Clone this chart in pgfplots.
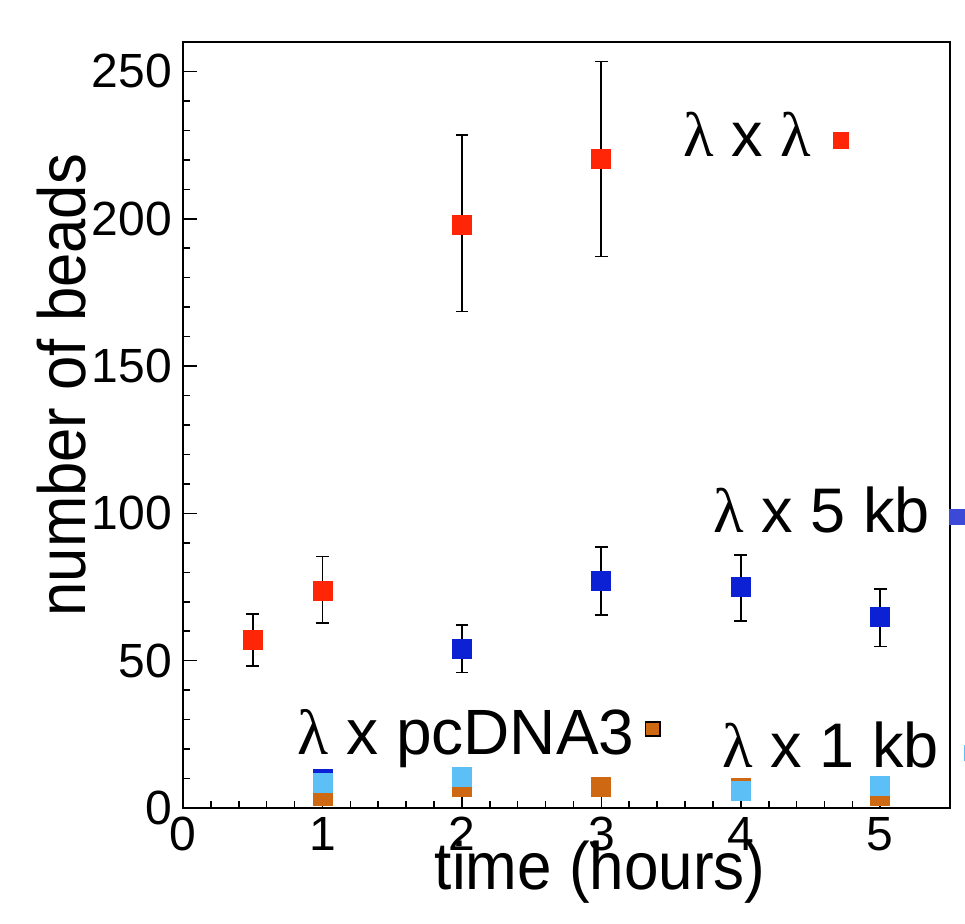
\documentclass[border=0pt]{standalone}
\usepackage{graphicx}
\usepackage{pgfplots}
\pgfplotsset{compat=1.18}
\usepackage{fontspec}
\setmainfont{Liberation Sans}
\newfontfamily\lamfont{Liberation Serif}
\newcommand{\lam}{{\lamfont λ}}
\definecolor{cred}{RGB}{255,38,8}
\definecolor{cblue}{RGB}{12,32,212}
\definecolor{clblue}{RGB}{92,192,246}
\definecolor{corange}{RGB}{206,104,18}
\definecolor{clegblue}{RGB}{60,72,214}
\begin{document}
\begin{tikzpicture}[x=1pt,y=1pt]
\useasboundingbox (-91.5,-57.5) rectangle (391,404);
\begin{axis}[
  at={(0,0)}, anchor=south west,
  scale only axis, width=383.5pt, height=383pt,
  xmin=0, xmax=5.5, ymin=0, ymax=260,
  xtick={0,1,2,3,4,5}, ytick={0,50,100,150,200,250},
  minor x tick num=4, minor y tick num=4,
  tick pos=left, tick align=inside,
  major tick length=7pt, minor tick length=3.5pt,
  tick style={black, line width=0.8pt},
  axis line style={line width=0.8pt},
  clip=false,
  /pgf/number format/assume math mode=true,
  ticklabel style={font=\fontsize{24}{28}\selectfont},
  yticklabel style={xshift=-2pt},
  xticklabel style={yshift=-1pt},
  xlabel={\scalebox{0.925}[1]{time (hours)}},
  ylabel={\scalebox{0.92}[1]{number of beads}},
  label style={font=\fontsize{33.5}{38}\selectfont},
  xlabel style={at={(axis description cs:0.544,-0.0836)}, anchor=center},
  ylabel style={at={(axis description cs:-0.158,0.552)}, anchor=center, rotate=0},
  every axis plot/.append style={only marks, mark=square*, mark size=4.75pt},
]
% lambda x 5 kb
\addplot[mark options={draw=cblue, fill=cblue},
  error bars/.cd, y dir=both, y explicit,
  error bar style={black, line width=0.9pt},
  error mark options={rotate=90, black, mark size=3.2pt, line width=0.9pt}]
  table[x=x, y=y, y error plus=ep, y error minus=em] {
x y ep em
2 54.1 7.9 8.1
3 77.1 11.6 11.5
4 75.0 10.9 11.5
5 65.0 9.3 10.2
};
\addplot[mark options={draw=cblue, fill=cblue}] coordinates {(1,9.9)};
% lambda x pcDNA3
\addplot[mark options={draw=corange, fill=corange}] coordinates {
(1,4.0) (2,7.1) (3,7.0) (4,6.9) (5,4.2)};
% lambda x 1 kb
\addplot[mark options={draw=clblue, fill=clblue}] coordinates {
(1,8.4) (2,10.5) (4,5.7) (5,7.6)};
% lambda x lambda
\addplot[mark options={draw=cred, fill=cred},
  error bars/.cd, y dir=both, y explicit,
  error bar style={black, line width=0.9pt},
  error mark options={rotate=90, black, mark size=3.2pt, line width=0.9pt}]
  table[x=x, y=y, y error plus=ep, y error minus=em] {
x y ep em
0.5 57.1 8.7 8.9
1 73.6 11.8 10.9
2 198 30.3 29.5
3 220.4 33.0 33.2
};
% legend squares
\addplot[mark size=3.8pt, mark options={draw=cred, fill=cred}] coordinates {(4.717,226.6)};
\addplot[mark size=3.9pt, mark options={draw=clegblue, fill=clegblue}] coordinates {(5.55,98.8)};
\addplot[mark size=3.6pt, mark options={draw=black, fill=corange, line width=0.8pt}] coordinates {(3.369,26.8)};
\addplot[mark size=3.8pt, mark options={draw=clblue, fill=clblue}] coordinates {(5.66,18.7)};
% labels
\node[anchor=base, font=\fontsize{31.5}{36}\selectfont] at (axis cs:4.043,221.1) {\lam\ x \lam};
\node[anchor=base, font=\fontsize{31.5}{36}\selectfont] at (axis cs:4.581,93.4) {\lam\ x 5 kb};
\node[anchor=base, font=\fontsize{32}{36}\selectfont] at (axis cs:2.029,18.0) {\lam\ x pcDNA3};
\node[anchor=base, font=\fontsize{31.5}{36}\selectfont] at (axis cs:4.645,13.6) {\lam\ x 1 kb};
\end{axis}
\end{tikzpicture}
\end{document}
